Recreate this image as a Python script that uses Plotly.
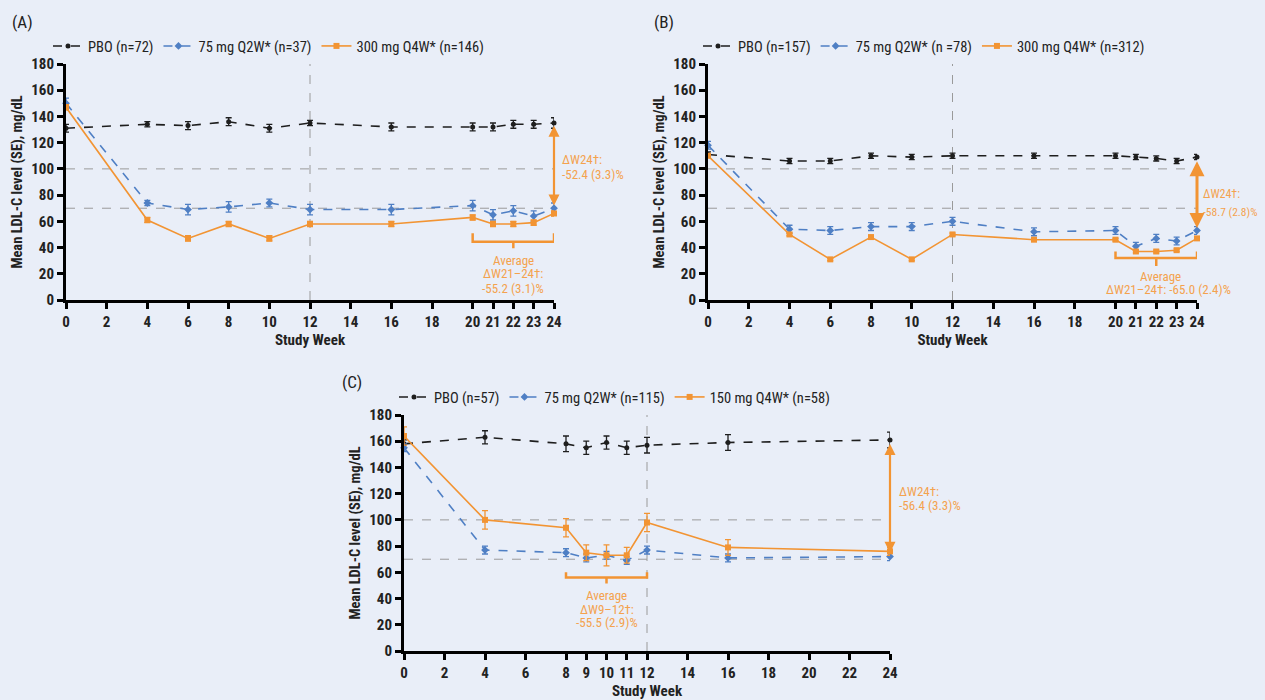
import plotly.graph_objects as go

# ---------------- data ----------------
weeks_ab = [0, 4, 6, 8, 10, 12, 16, 20, 21, 22, 23, 24]
weeks_c = [0, 4, 8, 9, 10, 11, 12, 16, 24]

a_pbo = [131, 134, 133, 136, 131, 135, 132, 132, 132, 134, 134, 135]
a_pbo_se = [3, 2, 3, 3, 3, 2, 3, 3, 3, 3, 3, 4]
a_q2w = [150, 74, 69, 71, 74, 69, 69, 72, 65, 68, 64, 70]
a_q2w_se = [4, 2, 4, 4, 3, 4, 4, 4, 4, 4, 4, 4]
a_q4w = [147, 61, 47, 58, 47, 58, 58, 63, 58, 58, 59, 66]
a_q4w_se = [2, 2, 2, 2, 2, 2, 2, 2, 2, 2, 2, 2]

b_pbo = [111, 106, 106, 110, 109, 110, 110, 110, 109, 108, 106, 109]
b_pbo_se = [2, 2, 2, 2, 2, 2, 2, 2, 2, 2, 2, 2]
b_q2w = [118, 54, 53, 56, 56, 60, 52, 53, 41, 47, 45, 53]
b_q2w_se = [3, 3, 3, 3, 3, 3, 3, 3, 3, 3, 3, 3]
b_q4w = [110, 50, 31, 48, 31, 50, 46, 46, 37, 37, 38, 47]
b_q4w_se = [1, 1, 1, 1, 1, 1, 1, 1, 1, 1, 1, 1]

c_pbo = [158, 163, 158, 155, 159, 155, 157, 159, 161]
c_pbo_se = [3, 5, 6, 5, 5, 5, 6, 6, 6]
c_q2w = [155, 77, 75, 71, 73, 69, 77, 71, 72]
c_q2w_se = [3, 3, 3, 3, 3, 3, 3, 3, 3]
c_q4w = [164, 100, 94, 75, 73, 73, 98, 79, 76]
c_q4w_se = [7, 7, 7, 6, 8, 6, 7, 6, 3]

legend_a = ["PBO (n=72)", "75 mg Q2W* (n=37)", "300 mg Q4W* (n=146)"]
legend_b = ["PBO (n=157)", "75 mg Q2W* (n =78)", "300 mg Q4W* (n=312)"]
legend_c = ["PBO (n=57)", "75 mg Q2W* (n=115)", "150 mg Q4W* (n=58)"]

ticks_ab = [0, 2, 4, 6, 8, 10, 12, 14, 16, 18, 20, 21, 22, 23, 24]
ticks_c = [0, 2, 4, 6, 8, 9, 10, 11, 12, 14, 16, 18, 20, 22, 24]
ticks_y = [0, 20, 40, 60, 80, 100, 120, 140, 160, 180]

# ---------------- styling ----------------
BG = "#e9eef8"
BLACK = "#1e1e1e"
BLUE = "#4f7fc4"
ORANGE = "#f29433"
ORANGE_TXT = "#f4a24e"
FONT = "Liberation Sans Narrow, Roboto Condensed, Liberation Sans, Arial"
W, H = 1265, 700

fig = go.Figure()

panels = [
    ("x", "y", "legend", weeks_ab, [(a_pbo, a_pbo_se), (a_q2w, a_q2w_se), (a_q4w, a_q4w_se)], legend_a),
    ("x2", "y2", "legend2", weeks_ab, [(b_pbo, b_pbo_se), (b_q2w, b_q2w_se), (b_q4w, b_q4w_se)], legend_b),
    ("x3", "y3", "legend3", weeks_c, [(c_pbo, c_pbo_se), (c_q2w, c_q2w_se), (c_q4w, c_q4w_se)], legend_c),
]
styles = [
    dict(color=BLACK, dash="dash", symbol="circle", size=5),
    dict(color=BLUE, dash="dash", symbol="diamond", size=6),
    dict(color=ORANGE, dash="solid", symbol="square", size=6),
]

for xa, ya, lg, wk, series, names in panels:
    for (vals, se), st, nm in zip(series, styles, names):
        fig.add_trace(go.Scatter(
            x=wk, y=vals, name=nm, mode="lines+markers",
            xaxis=xa, yaxis=ya, legend=lg, cliponaxis=False,
            line=dict(color=st["color"], dash=st["dash"], width=1.6),
            marker=dict(color=st["color"], symbol=st["symbol"], size=st["size"]),
            error_y=dict(type="data", array=se, color=st["color"], thickness=1.3, width=3),
        ))

def px_x(p):
    return p / W

def px_y(p):
    return 1 - p / H

axis_common = dict(
    showgrid=False, zeroline=False, showline=True, linecolor="black", linewidth=3,
    ticks="outside", ticklen=6, tickwidth=2.5, tickcolor="black", automargin=False,
    tickfont=dict(family=FONT, size=15, color="#222", weight="bold"),
)

dom = {
    "x": [px_x(66), px_x(554)], "y": [px_y(300), px_y(64)],
    "x2": [px_x(708), px_x(1197)], "y2": [px_y(300), px_y(64)],
    "x3": [px_x(404), px_x(890)], "y3": [px_y(651), px_y(415)],
}

layout = dict(
    width=W, height=H, paper_bgcolor=BG, plot_bgcolor=BG,
    margin=dict(l=0, r=0, t=0, b=0, autoexpand=False),
    font=dict(family=FONT, color="#222"),
    showlegend=True,
)

for i, (xa, ya, tv) in enumerate([("x", "y", ticks_ab), ("x2", "y2", ticks_ab), ("x3", "y3", ticks_c)]):
    xk = "xaxis" if i == 0 else f"xaxis{i+1}"
    yk = "yaxis" if i == 0 else f"yaxis{i+1}"
    layout[xk] = dict(axis_common, domain=dom[xa], range=[0, 24], tickvals=tv,
                      anchor=ya, title=dict(text="<b>Study Week</b>", standoff=0,
                                            font=dict(family=FONT, size=15, color="#222")))
    layout[yk] = dict(axis_common, domain=dom[ya], range=[0, 180], tickvals=ticks_y,
                      anchor=xa, title=dict(text="<b>Mean LDL-C level (SE), mg/dL</b>", standoff=6,
                                            font=dict(family=FONT, size=14.5, color="#222")))

leg_common = dict(orientation="h", bgcolor="rgba(0,0,0,0)", itemwidth=30,
                  font=dict(family=FONT, size=14.5, color="#222"),
                  xanchor="left", yanchor="middle", tracegroupgap=0, itemclick=False)
layout["legend"] = dict(leg_common, x=px_x(48), y=px_y(46))
layout["legend2"] = dict(leg_common, x=px_x(698), y=px_y(46))
layout["legend3"] = dict(leg_common, x=px_x(394), y=px_y(397))

fig.update_layout(**layout)

# reference lines
shapes = []
for xa, ya in [("x", "y"), ("x2", "y2"), ("x3", "y3")]:
    for yv in (100, 70):
        shapes.append(dict(type="line", xref=xa, yref=ya, x0=0, x1=24, y0=yv, y1=yv,
                           line=dict(color="#9a9a9a", width=1, dash="dash"), layer="below"))
    shapes.append(dict(type="line", xref=xa, yref=ya, x0=12, x1=12, y0=0, y1=180,
                       line=dict(color="#9a9a9a", width=1, dash="dash"), layer="below"))

# brackets
def bracket(xa, ya, x0, x1, yb, yt, ys):
    xm = (x0 + x1) / 2
    return dict(type="path", xref=xa, yref=ya,
                path=f"M {x0},{yt} L {x0},{yb} L {x1},{yb} L {x1},{yt} M {xm},{yb} L {xm},{ys}",
                line=dict(color=ORANGE, width=2.5))

shapes.append(bracket("x", "y", 20, 24, 44.5, 51, 39.5))
shapes.append(bracket("x2", "y2", 20, 24, 32, 37, 26))
shapes.append(bracket("x3", "y3", 8, 12, 56, 60, 51.5))
fig.update_layout(shapes=shapes)

annotations = []
# panel labels
for t, xp, yp in [("(A)", 10, 22), ("(B)", 652, 22), ("(C)", 340, 382)]:
    annotations.append(dict(text=t, x=px_x(xp), y=px_y(yp), xref="paper", yref="paper",
                            xanchor="left", yanchor="middle", showarrow=False,
                            font=dict(family=FONT, size=17, color="#222")))

# double arrows
for xa, ya, ytop, ybot, wd in [("x", "y", 134, 72, 2.2), ("x2", "y2", 107, 55, 3), ("x3", "y3", 159, 75, 2.2)]:
    annotations.append(dict(x=24, y=ybot, ax=24, ay=ytop, xref=xa, yref=ya, axref=xa, ayref=ya,
                            showarrow=True, arrowhead=2, startarrowhead=2, arrowside="end+start",
                            arrowsize=1, startarrowsize=1, arrowwidth=wd, arrowcolor=ORANGE, text=""))

def to_paper(xa, ya, x, y):
    dx = dom[xa]
    dy = dom[ya]
    return dx[0] + (dx[1] - dx[0]) * x / 24.0, dy[0] + (dy[1] - dy[0]) * y / 180.0

def txt(xa, ya, x, y, t, anchor="left", size=13):
    px, py = to_paper(xa, ya, x, y)
    annotations.append(dict(text=t, x=px, y=py, xref="paper", yref="paper", xanchor=anchor, yanchor="middle",
                            showarrow=False, font=dict(family=FONT, size=size, color=ORANGE_TXT)))

txt("x", "y", 24.3, 107.5, "ΔW24†:")
txt("x", "y", 24.3, 96, "-52.4 (3.3)%")
txt("x", "y", 22, 30.5, "Average", "center")
txt("x", "y", 22, 20, "ΔW21–24†:", "center")
txt("x", "y", 22, 9, "-55.2 (3.1)%", "center")

txt("x2", "y2", 24.2, 81, "ΔW24†:", size=12)
txt("x2", "y2", 24.2, 67, "-58.7 (2.8)%", size=11.5)
txt("x2", "y2", 22.2, 18, "Average", "center")
txt("x2", "y2", 22.6, 8, "ΔW21–24†: -65.0 (2.4)%", "center")

txt("x3", "y3", 24.35, 122, "ΔW24†:")
txt("x3", "y3", 24.35, 111, "-56.4 (3.3)%")
txt("x3", "y3", 10, 42, "Average", "center")
txt("x3", "y3", 10, 32, "ΔW9–12†:", "center")
txt("x3", "y3", 10, 22, "-55.5 (2.9)%", "center")

fig.update_layout(annotations=annotations)

fig.write_html("out.html", config={"displayModeBar": False},
               post_script="document.body.style.margin='0';document.body.style.overflow='hidden';")
